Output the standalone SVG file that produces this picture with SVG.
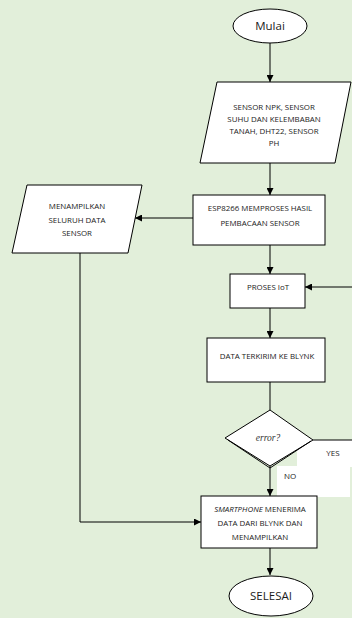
<svg xmlns="http://www.w3.org/2000/svg" width="352" height="618" viewBox="0 0 352 618">
<defs>
<marker id="ah" viewBox="0 0 10 10" refX="10" refY="5" markerWidth="7" markerHeight="7" orient="auto" markerUnits="userSpaceOnUse">
<path d="M0,0 L10,5 L0,10 z" fill="#000"/>
</marker>
<style>
.shape{fill:#fff;stroke:#000;stroke-width:1}
.ln{fill:none;stroke:#000;stroke-width:1}
.arr{fill:none;stroke:#000;stroke-width:1;marker-end:url(#ah)}
.t{font-family:"Open Sans","Liberation Sans",sans-serif;font-size:7.9px;fill:#1a1a1a;text-anchor:middle}
.big{font-size:11.5px}
</style>
</defs>
<rect width="352" height="618" fill="#e2efda"/>
<g id="labels-bg">
<rect x="297" y="440" width="55" height="27" fill="#fff"/>
<rect x="277" y="466" width="73" height="31" fill="#fff"/>
</g>
<g id="connectors">
<line class="arr" x1="270" y1="43" x2="270" y2="82"/>
<line class="arr" x1="270" y1="163" x2="270" y2="195"/>
<line class="arr" x1="193" y1="218" x2="135" y2="218"/>
<line class="arr" x1="270" y1="245" x2="270" y2="274"/>
<line class="arr" x1="270" y1="308" x2="270" y2="338"/>
<line class="ln" x1="270" y1="382" x2="270" y2="410"/>
<line class="arr" x1="270" y1="466" x2="270" y2="496"/>
<polyline class="arr" points="313,440 353,440 353,287 305,287"/>
<polyline class="arr" points="80,253 80,522 201,522"/>
<line class="arr" x1="270" y1="548" x2="270" y2="575"/>
<text class="t" x="333" y="456" style="font-size:8px">YES</text>
<text class="t" x="290" y="479" style="font-size:8px">NO</text>
</g>
<g id="mulai">
<ellipse class="shape" cx="270" cy="26" rx="37" ry="17"/>
<text class="t big" x="270" y="30">Mulai</text>
</g>
<g id="input-sensor">
<polygon class="shape" points="217,82 351,82 335,163 200,163"/>
<text class="t" x="274" y="110">SENSOR NPK, SENSOR</text>
<text class="t" x="274" y="122">SUHU DAN KELEMBABAN</text>
<text class="t" x="274" y="134">TANAH, DHT22, SENSOR</text>
<text class="t" x="274" y="146">PH</text>
</g>
<g id="esp">
<rect class="shape" x="193" y="195" width="132" height="50"/>
<text class="t" x="260" y="211">ESP8266 MEMPROSES HASIL</text>
<text class="t" x="260" y="226">PEMBACAAN SENSOR</text>
</g>
<g id="tampil">
<polygon class="shape" points="27,185 142,185 128,253 12,253"/>
<text class="t" x="77" y="209">MENAMPILKAN</text>
<text class="t" x="77" y="223">SELURUH DATA</text>
<text class="t" x="77" y="236">SENSOR</text>
</g>
<g id="iot">
<rect class="shape" x="230" y="274" width="75" height="34"/>
<text class="t" x="268" y="290">PROSES IoT</text>
</g>
<g id="kirim">
<rect class="shape" x="207" y="338" width="118" height="44"/>
<text class="t" x="267" y="359">DATA TERKIRIM KE BLYNK</text>
</g>
<g id="error">
<polygon class="shape" points="270,410 313,440 270,466 225,438"/>
<polyline class="ln" points="228,440 270,468 311,441" stroke-width="0.8"/>
<text x="268" y="441" style="font-family:'Liberation Serif',serif;font-style:italic;font-size:9.5px;fill:#333;text-anchor:middle">error?</text>
</g>
<g id="smartphone">
<rect class="shape" x="201" y="496" width="116" height="52"/>
<text class="t" x="260" y="512"><tspan font-style="italic">SMARTPHONE</tspan> MENERIMA</text>
<text class="t" x="260" y="526">DATA DARI BLYNK DAN</text>
<text class="t" x="260" y="540">MENAMPILKAN</text>
</g>
<g id="selesai">
<ellipse class="shape" cx="271" cy="596" rx="42" ry="20"/>
<text class="t big" x="271" y="600">SELESAI</text>
</g>
</svg>
